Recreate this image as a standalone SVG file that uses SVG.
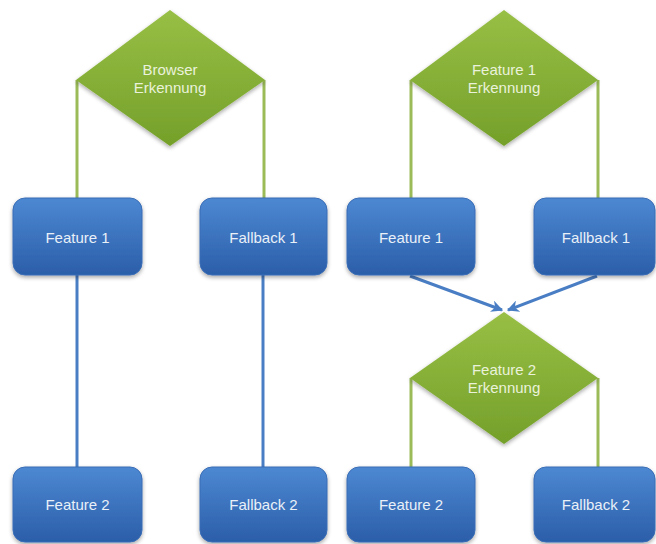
<svg xmlns="http://www.w3.org/2000/svg" width="656" height="544" viewBox="0 0 656 544">
<defs>
<linearGradient id="gBox" x1="0" y1="0" x2="0" y2="1">
<stop offset="0" stop-color="#4d88d2"/>
<stop offset="1" stop-color="#2b5ea9"/>
</linearGradient>
<linearGradient id="gDia" x1="0" y1="0" x2="0" y2="1">
<stop offset="0" stop-color="#98bf45"/>
<stop offset="1" stop-color="#74a02a"/>
</linearGradient>
<filter id="sh" x="-20%" y="-20%" width="140%" height="150%">
<feGaussianBlur in="SourceAlpha" stdDeviation="2"/>
<feOffset dx="0" dy="2" result="b"/>
<feComponentTransfer><feFuncA type="linear" slope="0.35"/></feComponentTransfer>
<feMerge><feMergeNode/><feMergeNode in="SourceGraphic"/></feMerge>
</filter>
<marker id="arr" viewBox="0 0 10 10" refX="9" refY="5" markerWidth="4" markerHeight="4" orient="auto" markerUnits="strokeWidth">
<path d="M0,0 L10,5 L0,10 L3,5 Z" fill="#4a7ec4"/>
</marker>
</defs>
<style>
.box{fill:url(#gBox);stroke:#3a6db5;stroke-width:1;filter:url(#sh)}
.dia{fill:url(#gDia);filter:url(#sh)}
.t{font-family:"Liberation Sans",Arial,sans-serif;font-size:15px;fill:#e9f0f8;text-anchor:middle}
.td{font-family:"Liberation Sans",Arial,sans-serif;font-size:15px;fill:#eaf2dc;text-anchor:middle}
.g{stroke:#9bbb59;stroke-width:3;fill:none}
.b{stroke:#4a7ec4;stroke-width:3;fill:none}
</style>
<rect width="656" height="544" fill="#ffffff"/>
<g id="connectors">
<path class="g" d="M77,80 V198"/>
<path class="g" d="M264,80 V198"/>
<path class="b" d="M77,275 V467"/>
<path class="b" d="M263,275 V467"/>
<path class="g" d="M411,80 V198"/>
<path class="g" d="M598,80 V198"/>
<path class="b" d="M410,276 L502,310" marker-end="url(#arr)"/>
<path class="b" d="M597,276 L508,310" marker-end="url(#arr)"/>
<path class="g" d="M411,378 V467"/>
<path class="g" d="M598,378 V467"/>
</g>
<g id="d1">
<polygon class="dia" points="170,10 265,80 170,146 76,80"/>
<text class="td" x="170" y="75">Browser</text>
<text class="td" x="170" y="93">Erkennung</text>
</g>
<g id="d2">
<polygon class="dia" points="504,10 598,80 504,146 410,80"/>
<text class="td" x="504" y="75">Feature 1</text>
<text class="td" x="504" y="93">Erkennung</text>
</g>
<g id="d3">
<polygon class="dia" points="504,312 598,378 504,444 410,378"/>
<text class="td" x="504" y="375">Feature 2</text>
<text class="td" x="504" y="393">Erkennung</text>
</g>
<g id="b1"><rect class="box" x="13" y="198" width="129" height="77" rx="12"/><text class="t" x="77.5" y="243">Feature 1</text></g>
<g id="b2"><rect class="box" x="200" y="198" width="127" height="77" rx="12"/><text class="t" x="263.5" y="243">Fallback 1</text></g>
<g id="b3"><rect class="box" x="347" y="198" width="128" height="77" rx="12"/><text class="t" x="411" y="243">Feature 1</text></g>
<g id="b4"><rect class="box" x="534" y="198" width="121" height="77" rx="12"/><text class="t" x="596" y="243">Fallback 1</text></g>
<g id="b5"><rect class="box" x="13" y="467" width="129" height="75" rx="12"/><text class="t" x="77.5" y="510">Feature 2</text></g>
<g id="b6"><rect class="box" x="200" y="467" width="127" height="75" rx="12"/><text class="t" x="263.5" y="510">Fallback 2</text></g>
<g id="b7"><rect class="box" x="347" y="467" width="128" height="75" rx="12"/><text class="t" x="411" y="510">Feature 2</text></g>
<g id="b8"><rect class="box" x="534" y="467" width="121" height="75" rx="12"/><text class="t" x="596" y="510">Fallback 2</text></g>
</svg>
